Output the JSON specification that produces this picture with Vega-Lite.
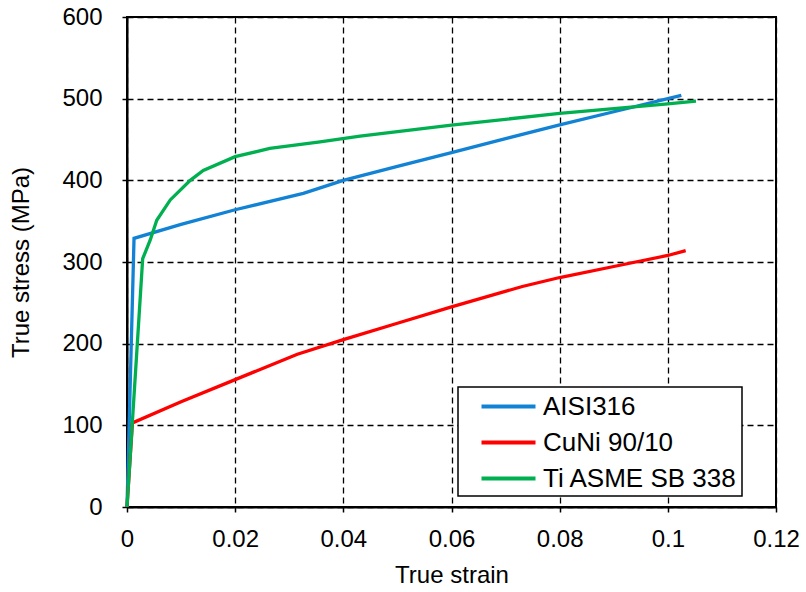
{
  "$schema": "https://vega.github.io/schema/vega-lite/v6.json",
  "autosize": "none",
  "width": 649,
  "height": 490,
  "padding": {"left": 127, "top": 17, "right": 30, "bottom": 85},
  "background": "white",
  "config": {
    "font": "Liberation Sans",
    "view": {"stroke": "black", "strokeWidth": 2},
    "legend": {
      "strokeColor": "black",
      "strokeWidth": 1.5,
      "fillColor": "white"
    },
    "axis": {
      "labelFont": "Liberation Sans",
      "titleFont": "Liberation Sans",
      "labelFontSize": 24,
      "titleFontSize": 24,
      "titleFontWeight": "normal",
      "labelColor": "black",
      "titleColor": "black",
      "domainColor": "black",
      "domainWidth": 2,
      "tickColor": "black",
      "tickWidth": 1.5,
      "tickSize": 5,
      "gridColor": "black",
      "gridWidth": 1.3,
      "gridDash": [6, 4],
      "gridOpacity": 1
    }
  },
  "data": {
    "values": [
      {"series": "AISI316", "strain": 0, "stress": 0},
      {"series": "AISI316", "strain": 0.0013, "stress": 329},
      {"series": "AISI316", "strain": 0.01, "stress": 346},
      {"series": "AISI316", "strain": 0.02, "stress": 364},
      {"series": "AISI316", "strain": 0.0326, "stress": 384},
      {"series": "AISI316", "strain": 0.04, "stress": 400},
      {"series": "AISI316", "strain": 0.05, "stress": 417},
      {"series": "AISI316", "strain": 0.06, "stress": 434},
      {"series": "AISI316", "strain": 0.07, "stress": 451},
      {"series": "AISI316", "strain": 0.08, "stress": 468},
      {"series": "AISI316", "strain": 0.09, "stress": 484},
      {"series": "AISI316", "strain": 0.1, "stress": 500},
      {"series": "AISI316", "strain": 0.1025, "stress": 504},
      {"series": "CuNi 90/10", "strain": 0, "stress": 0},
      {"series": "CuNi 90/10", "strain": 0.001, "stress": 103},
      {"series": "CuNi 90/10", "strain": 0.01, "stress": 129},
      {"series": "CuNi 90/10", "strain": 0.02, "stress": 156},
      {"series": "CuNi 90/10", "strain": 0.0315, "stress": 187},
      {"series": "CuNi 90/10", "strain": 0.04, "stress": 205},
      {"series": "CuNi 90/10", "strain": 0.05, "stress": 225},
      {"series": "CuNi 90/10", "strain": 0.06, "stress": 245},
      {"series": "CuNi 90/10", "strain": 0.0731, "stress": 270},
      {"series": "CuNi 90/10", "strain": 0.08, "stress": 281},
      {"series": "CuNi 90/10", "strain": 0.09, "stress": 294.5},
      {"series": "CuNi 90/10", "strain": 0.1, "stress": 308},
      {"series": "CuNi 90/10", "strain": 0.1033, "stress": 314},
      {"series": "Ti ASME SB 338", "strain": 0, "stress": 0},
      {"series": "Ti ASME SB 338", "strain": 0.0029, "stress": 304},
      {"series": "Ti ASME SB 338", "strain": 0.0043, "stress": 327},
      {"series": "Ti ASME SB 338", "strain": 0.0055, "stress": 351},
      {"series": "Ti ASME SB 338", "strain": 0.008, "stress": 376},
      {"series": "Ti ASME SB 338", "strain": 0.0117, "stress": 400},
      {"series": "Ti ASME SB 338", "strain": 0.0141, "stress": 412},
      {"series": "Ti ASME SB 338", "strain": 0.02, "stress": 429},
      {"series": "Ti ASME SB 338", "strain": 0.0264, "stress": 439},
      {"series": "Ti ASME SB 338", "strain": 0.0357, "stress": 447},
      {"series": "Ti ASME SB 338", "strain": 0.0431, "stress": 454},
      {"series": "Ti ASME SB 338", "strain": 0.06, "stress": 467.5},
      {"series": "Ti ASME SB 338", "strain": 0.08, "stress": 482},
      {"series": "Ti ASME SB 338", "strain": 0.1, "stress": 493.5},
      {"series": "Ti ASME SB 338", "strain": 0.1052, "stress": 497}
    ]
  },
  "mark": {"type": "line", "strokeWidth": 3.3},
  "encoding": {
    "x": {
      "field": "strain",
      "type": "quantitative",
      "scale": {"domain": [0, 0.12], "nice": false},
      "axis": {
        "values": [0, 0.02, 0.04, 0.06, 0.08, 0.1, 0.12],
        "format": ".2~f",
        "title": "True strain",
        "labelPadding": 15,
        "titlePadding": 12,
        "labelFlush": false
      }
    },
    "y": {
      "field": "stress",
      "type": "quantitative",
      "scale": {"domain": [0, 600], "nice": false},
      "axis": {
        "values": [0, 100, 200, 300, 400, 500, 600],
        "title": "True stress (MPa)",
        "labelPadding": 20,
        "titlePadding": 28,
        "labelFlush": false
      }
    },
    "color": {
      "field": "series",
      "type": "nominal",
      "scale": {
        "domain": ["AISI316", "CuNi 90/10", "Ti ASME SB 338"],
        "range": ["#1283D4", "#FF0000", "#00B050"]
      },
      "legend": {
        "title": null,
        "orient": "none",
        "legendX": 331,
        "legendY": 370,
        "symbolType": "M-2,0H2",
        "symbolSize": 729,
        "symbolStrokeWidth": 4,
        "symbolOffset": 31,
        "labelFont": "Liberation Sans",
        "labelFontSize": 26,
        "labelColor": "black",
        "labelOffset": 19,
        "labelLimit": 400,
        "rowPadding": 7,
        "padding": 4
      }
    }
  }
}
